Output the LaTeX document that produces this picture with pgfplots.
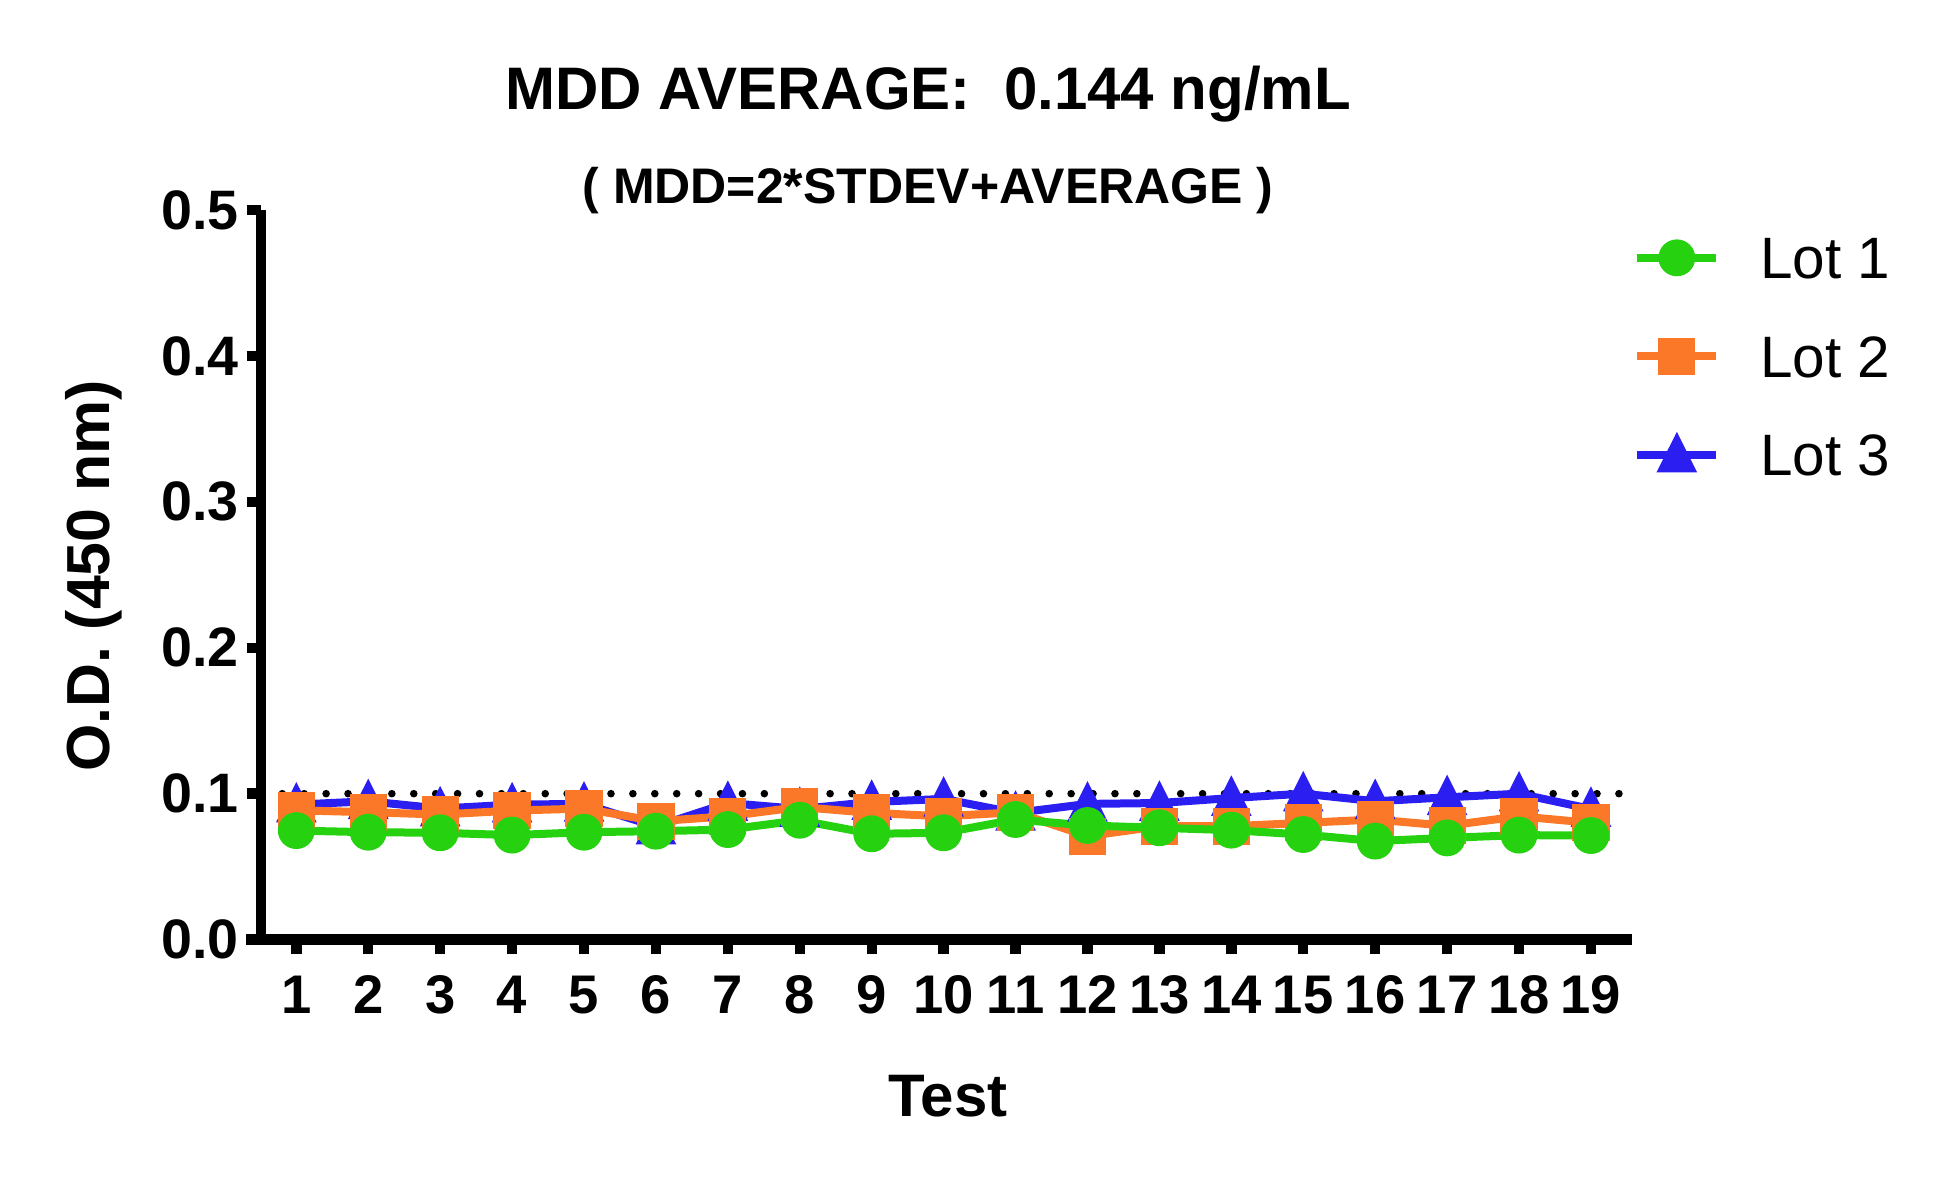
\documentclass[border=0pt]{standalone}
\usepackage{pgfplots}
\pgfplotsset{compat=1.18}
\usepackage{fontspec}
\setmainfont{Liberation Sans}
\definecolor{cgreen}{RGB}{38,210,16}
\definecolor{corange}{RGB}{250,120,40}
\definecolor{cblue}{RGB}{42,30,240}
\begin{document}
\begin{tikzpicture}
\path[use as bounding box] (0,0) rectangle (486.5pt,294.5pt);
\begin{axis}[
  at={(65.25pt,59.6pt)}, anchor=south west,
  scale only axis, width=342.8pt, height=182.4pt,
  xmin=0.509, xmax=19.574, ymin=0, ymax=0.5,
  axis x line=bottom, axis y line=left,
  axis line style={line width=2.6pt, -},
  x axis line style={shorten <=-3.7pt},
  xtick={1,...,19}, ytick={0,0.1,0.2,0.3,0.4,0.5},
  tick align=outside, major tick length=3.6pt,
  tick style={line width=2.6pt, black},
  /pgf/number format/assume math mode=true,
  yticklabel style={/pgf/number format/.cd, fixed, fixed zerofill, precision=1, /tikz/.cd, xshift=1.5pt, font=\fontsize{13.9}{15}\selectfont\bfseries},
  xticklabel style={yshift=-1.9pt},
  ticklabel style={font=\fontsize{13.6}{15}\selectfont\bfseries},
  clip=false,
  reverse legend,
  legend style={at={(axis description cs:1,1)}, anchor=north west,
    xshift=-2.9pt, yshift=-4.5pt, draw=none, fill=none,
    font=\fontsize{14.6}{16}\selectfont,
    nodes={inner sep=0pt, text height=10.5pt, text depth=0pt},
    row sep=14.1pt, column sep=10pt},
  legend cell align=left,
  legend image code/.code={\draw[mark repeat=2,mark phase=2] plot coordinates {(0pt,0pt)(9.85pt,0pt)(19.7pt,0pt)};},
]
\addplot[black, line width=1.9pt, dash pattern=on 0pt off 5.478pt, line cap=round, forget plot] coordinates {(0.805,0.1) (19.39,0.1)};
\addplot[cblue, line width=2pt, mark=triangle*, mark size=4pt, mark options={solid, draw=none, yshift=-1.15pt, yscale=1.15}] coordinates {
(1,0.0925) (2,0.0948) (3,0.0898) (4,0.0925) (5,0.0930) (6,0.0775) (7,0.0936) (8,0.0895) (9,0.0943) (10,0.0964)
(11,0.0868) (12,0.0930) (13,0.0936) (14,0.0970) (15,0.1000) (16,0.0948) (17,0.0975) (18,0.1000) (19,0.0895)};
\addlegendentry{Lot 3}
\addplot[corange, line width=2pt, mark=square*, mark size=3.65pt, mark options={solid, draw=none}] coordinates {
(1,0.0886) (2,0.0873) (3,0.0857) (4,0.0884) (5,0.0898) (6,0.0811) (7,0.0845) (8,0.0909) (9,0.0868) (10,0.0845)
(11,0.0873) (12,0.0709) (13,0.0777) (14,0.0777) (15,0.0800) (16,0.0823) (17,0.0780) (18,0.0845) (19,0.0800)};
\addlegendentry{Lot 2}
\addplot[cgreen, line width=2pt, mark=*, mark size=3.6pt, mark options={solid, draw=none}] coordinates {
(1,0.0747) (2,0.0736) (3,0.0732) (4,0.0716) (5,0.0736) (6,0.0743) (7,0.0754) (8,0.0818) (9,0.0725) (10,0.0732)
(11,0.0823) (12,0.0782) (13,0.0766) (14,0.0750) (15,0.0720) (16,0.0675) (17,0.0697) (18,0.0716) (19,0.0713)};
\addlegendentry{Lot 1}
\end{axis}
\node[anchor=base, inner sep=0pt, font=\fontsize{15}{18}\selectfont\bfseries] at (232pt,267.1pt) {MDD AVERAGE:\ \ 0.144 ng/mL};
\node[anchor=base, inner sep=0pt, font=\fontsize{12.5}{15}\selectfont\bfseries] at (232pt,243.7pt) {( MDD=2*STDEV+AVERAGE )};
\node[anchor=base, inner sep=0pt, font=\fontsize{15}{17}\selectfont\bfseries] at (237pt,15.5pt) {Test};
\node[anchor=center, rotate=90, inner sep=0pt, font=\fontsize{15.2}{17}\selectfont\bfseries] at (23.4pt,150.5pt) {O.D. (450 nm)};
\end{tikzpicture}
\end{document}
